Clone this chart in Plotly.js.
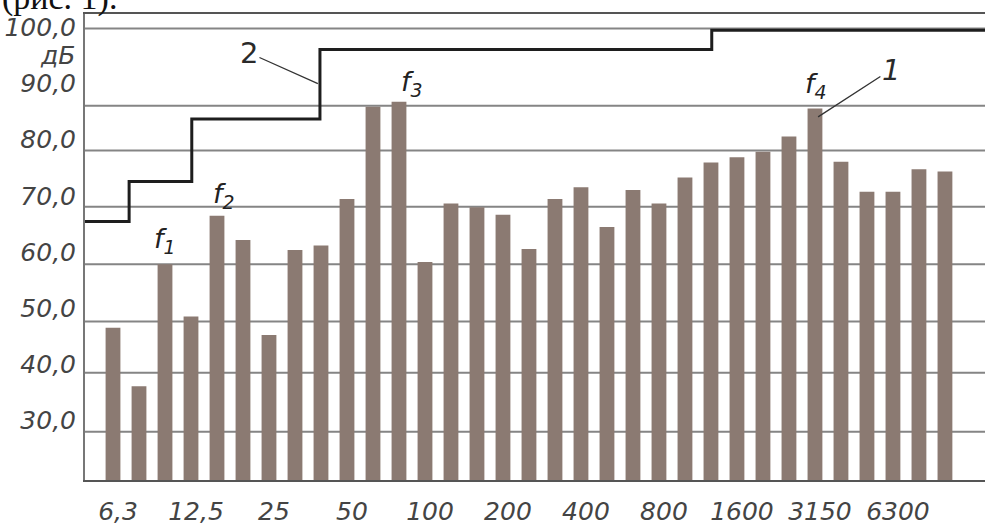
<!DOCTYPE html>
<html>
<head>
<meta charset="utf-8">
<script src="https://cdn.plot.ly/plotly-3.0.1.min.js"></script>
<style>html,body{margin:0;padding:0;background:#fff;}#chart{width:985px;height:527px;}</style>
</head>
<body>
<div id="chart"></div>
<script>
// 1/3-octave band centre frequencies, Hz
var freqs = ['6,3','8','10','12,5','16','20','25','31,5','40','50','63','80','100','125','160','200','250','315','400','500','630','800','1000','1250','1600','2000','2500','3150','4000','5000','6300','8000','10000'];
// measured level, dB (series 1)
var levels = [48.5,38.1,59.8,50.5,68.4,64.1,47.2,62.3,63.1,71.4,87.8,88.7,60.2,70.6,69.9,68.6,62.5,71.4,73.5,66.4,73.0,70.6,75.2,77.9,78.8,79.8,82.5,87.5,78.0,72.7,72.7,76.7,76.3];
// permissible level, stepped line (series 2): band-index break points and levels
var limitX = [-2, 0.62, 3.03, 7.96, 23.03, 40];
var limitY = [67.4, 74.5, 85.6, 98.0, 101.4, 101.4];
// x tick labels (every third band)
var xTickIdx = [0,3,6,9,12,15,18,21,24,27,30];
var xTickLabels = ['6,3','12,5','25','50','100','200','400','800','1600','3150','6300'];
// y tick labels
var yTickVals = [30,40,50,60,70,80,90,100];
var yTickLabels = ['30,0','40,0','50,0','60,0','70,0','80,0','90,0','100,0'];
// horizontal grid lines as drawn in the figure
var gridLevels = [30, 40.5, 49.6, 59.8, 70, 80, 88.0, 101.7];

var idx = freqs.map(function(f, i){ return i; });

var bars = {
  type: 'bar', x: idx, y: levels, width: 0.57,
  marker: {color: '#8b7a72', line: {width: 0}},
  hoverinfo: 'skip', showlegend: false
};
var limit = {
  type: 'scatter', mode: 'lines', x: limitX, y: limitY,
  line: {shape: 'hv', color: '#1e1e1e', width: 3},
  hoverinfo: 'skip', showlegend: false
};

var tickFont = {family: 'DejaVu Sans', size: 25, color: '#444', style: 'italic'};

var shapes = gridLevels.map(function(v){
  return {type: 'line', xref: 'paper', x0: 0, x1: 1, yref: 'y', y0: v, y1: v,
          line: {color: '#858585', width: 2}, layer: 'below'};
});

var fFont = {family: 'DejaVu Sans', size: 27, color: '#222', style: 'italic'};
var annotations = [
  {xref: 'paper', yref: 'paper', x: -0.095, y: 0.989, xanchor: 'left', yanchor: 'bottom',
   text: '(рис. 1).', showarrow: false,
   font: {family: 'Liberation Serif', size: 34, color: '#111'}},
  {xref: 'paper', yref: 'y', x: -0.031, y: 97.0, xanchor: 'center', yanchor: 'middle',
   text: 'дБ', showarrow: false, font: tickFont},
  {xref: 'x', yref: 'y', x: 7.88, y: 91.9, axref: 'x', ayref: 'y', ax: 5.23, ay: 97.4,
   text: '2', showarrow: true, arrowhead: 0, arrowwidth: 1.3, arrowcolor: '#333',
   font: {family: 'DejaVu Sans', size: 29, color: '#2a2a2a'}},
  {xref: 'x', yref: 'y', x: 27.12, y: 86.0, axref: 'x', ayref: 'y', ax: 29.92, ay: 94.4,
   text: '1', showarrow: true, arrowhead: 0, arrowwidth: 1.3, arrowcolor: '#333',
   font: {family: 'DejaVu Sans', size: 29, color: '#2a2a2a', style: 'italic'}},
  {xref: 'x', yref: 'y', x: 2.0, y: 64.0, text: '<i>f</i><sub>1</sub>', showarrow: false, font: fFont},
  {xref: 'x', yref: 'y', x: 4.25, y: 72.0, text: '<i>f</i><sub>2</sub>', showarrow: false, font: fFont},
  {xref: 'x', yref: 'y', x: 11.5, y: 92.0, text: '<i>f</i><sub>3</sub>', showarrow: false, font: fFont},
  {xref: 'x', yref: 'y', x: 27.05, y: 91.6, text: '<i>f</i><sub>4</sub>', showarrow: false, font: fFont}
];

var layout = {
  width: 985, height: 527,
  margin: {l: 85, r: 0, t: 14, b: 47, pad: 0},
  paper_bgcolor: '#ffffff', plot_bgcolor: '#ffffff',
  showlegend: false,
  xaxis: {
    type: 'linear', range: [-1.077, 33.54], fixedrange: true,
    tickmode: 'array', tickvals: xTickIdx, ticktext: xTickLabels,
    showgrid: false, zeroline: false, ticks: '',
    showline: true, mirror: true, linecolor: '#555', linewidth: 2,
    tickfont: tickFont, ticklabelshift: 5, ticklabelstandoff: 8
  },
  yaxis: {
    type: 'linear', range: [21.4, 104.3], fixedrange: true,
    tickmode: 'array', tickvals: yTickVals, ticktext: yTickLabels,
    showgrid: false, zeroline: false, ticks: '',
    showline: true, linecolor: '#777', linewidth: 2,
    tickfont: tickFont, ticklabelshift: -11, ticklabelstandoff: 2
  },
  shapes: shapes,
  annotations: annotations
};

Plotly.newPlot('chart', [bars, limit], layout, {displayModeBar: false, staticPlot: true});
</script>
</body>
</html>
